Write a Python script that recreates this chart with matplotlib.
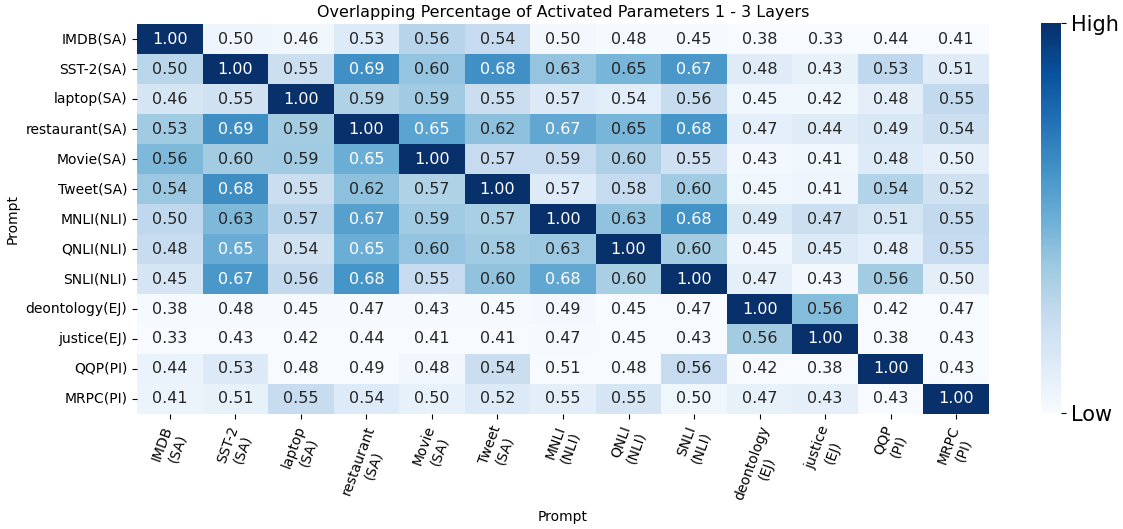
import matplotlib
matplotlib.use("Agg")
import matplotlib.pyplot as plt
import numpy as np
import seaborn as sns

row_labels = [
    "IMDB(SA)", "SST-2(SA)", "laptop(SA)", "restaurant(SA)", "Movie(SA)",
    "Tweet(SA)", "MNLI(NLI)", "QNLI(NLI)", "SNLI(NLI)", "deontology(EJ)",
    "justice(EJ)", "QQP(PI)", "MRPC(PI)",
]
col_labels = [
    "IMDB\n(SA)", "SST-2\n(SA)", "laptop\n(SA)", "restaurant\n(SA)", "Movie\n(SA)",
    "Tweet\n(SA)", "MNLI\n(NLI)", "QNLI\n(NLI)", "SNLI\n(NLI)", "deontology\n(EJ)",
    "justice\n(EJ)", "QQP\n(PI)", "MRPC\n(PI)",
]

# printed overlap values
overlap = np.array([
    [1.00, 0.50, 0.46, 0.53, 0.56, 0.54, 0.50, 0.48, 0.45, 0.38, 0.33, 0.44, 0.41],
    [0.50, 1.00, 0.55, 0.69, 0.60, 0.68, 0.63, 0.65, 0.67, 0.48, 0.43, 0.53, 0.51],
    [0.46, 0.55, 1.00, 0.59, 0.59, 0.55, 0.57, 0.54, 0.56, 0.45, 0.42, 0.48, 0.55],
    [0.53, 0.69, 0.59, 1.00, 0.65, 0.62, 0.67, 0.65, 0.68, 0.47, 0.44, 0.49, 0.54],
    [0.56, 0.60, 0.59, 0.65, 1.00, 0.57, 0.59, 0.60, 0.55, 0.43, 0.41, 0.48, 0.50],
    [0.54, 0.68, 0.55, 0.62, 0.57, 1.00, 0.57, 0.58, 0.60, 0.45, 0.41, 0.54, 0.52],
    [0.50, 0.63, 0.57, 0.67, 0.59, 0.57, 1.00, 0.63, 0.68, 0.49, 0.47, 0.51, 0.55],
    [0.48, 0.65, 0.54, 0.65, 0.60, 0.58, 0.63, 1.00, 0.60, 0.45, 0.45, 0.48, 0.55],
    [0.45, 0.67, 0.56, 0.68, 0.55, 0.60, 0.68, 0.60, 1.00, 0.47, 0.43, 0.56, 0.50],
    [0.38, 0.48, 0.45, 0.47, 0.43, 0.45, 0.49, 0.45, 0.47, 1.00, 0.56, 0.42, 0.47],
    [0.33, 0.43, 0.42, 0.44, 0.41, 0.41, 0.47, 0.45, 0.43, 0.56, 1.00, 0.38, 0.43],
    [0.44, 0.53, 0.48, 0.49, 0.48, 0.54, 0.51, 0.48, 0.56, 0.42, 0.38, 1.00, 0.43],
    [0.41, 0.51, 0.55, 0.54, 0.50, 0.52, 0.55, 0.55, 0.50, 0.47, 0.43, 0.43, 1.00],
])

# cell shading (Low..High); it does not follow the printed numbers
shade = np.array([
    [1.00, 0.05, 0.04, 0.13, 0.30, 0.25, 0.02, 0.01, 0.01, 0.00, 0.00, 0.00, 0.00],
    [0.29, 1.00, 0.22, 0.63, 0.40, 0.63, 0.40, 0.47, 0.60, 0.12, 0.08, 0.27, 0.12],
    [0.17, 0.20, 1.00, 0.32, 0.37, 0.23, 0.14, 0.11, 0.24, 0.04, 0.04, 0.10, 0.26],
    [0.37, 0.64, 0.36, 1.00, 0.55, 0.42, 0.53, 0.47, 0.61, 0.09, 0.12, 0.15, 0.22],
    [0.45, 0.36, 0.37, 0.50, 1.00, 0.25, 0.25, 0.33, 0.21, 0.02, 0.04, 0.13, 0.09],
    [0.38, 0.64, 0.23, 0.42, 0.32, 1.00, 0.13, 0.25, 0.37, 0.04, 0.05, 0.31, 0.20],
    [0.27, 0.45, 0.30, 0.56, 0.37, 0.34, 1.00, 0.41, 0.62, 0.15, 0.22, 0.18, 0.26],
    [0.24, 0.51, 0.20, 0.50, 0.40, 0.37, 0.38, 1.00, 0.36, 0.05, 0.14, 0.11, 0.25],
    [0.17, 0.60, 0.26, 0.61, 0.25, 0.41, 0.53, 0.34, 1.00, 0.09, 0.02, 0.36, 0.10],
    [0.01, 0.01, 0.01, 0.01, 0.01, 0.01, 0.02, 0.00, 0.00, 1.00, 0.44, 0.00, 0.00],
    [0.00, 0.00, 0.00, 0.00, 0.00, 0.00, 0.01, 0.00, 0.00, 0.36, 1.00, 0.00, 0.00],
    [0.07, 0.14, 0.00, 0.00, 0.03, 0.23, 0.00, 0.00, 0.25, 0.00, 0.00, 1.00, 0.00],
    [0.06, 0.08, 0.24, 0.13, 0.08, 0.14, 0.10, 0.17, 0.04, 0.08, 0.09, 0.00, 1.00],
])

fig = plt.figure(figsize=(11.23, 5.29), dpi=100)
ax = fig.add_axes([0.1220, 0.2174, 0.7587, 0.7372])
cax = fig.add_axes([0.9270, 0.2193, 0.0178, 0.7372])

sns.heatmap(
    shade, ax=ax, cbar_ax=cax, cmap="Blues", vmin=0, vmax=1,
    annot=overlap, fmt=".2f", annot_kws={"fontsize": 11.5},
    xticklabels=col_labels, yticklabels=row_labels,
)

ax.set_title("Overlapping Percentage of Activated Parameters 1 - 3 Layers", fontsize=11.5, pad=5)
ax.set_xlabel("Prompt", fontsize=10, labelpad=2)
ax.set_ylabel("Prompt", fontsize=10)
ax.tick_params(axis="both", labelsize=10)
plt.setp(ax.get_xticklabels(), rotation=70, ha="center")
plt.setp(ax.get_yticklabels(), rotation=0)

cbar = ax.collections[0].colorbar
cbar.set_ticks([0, 1])
cbar.set_ticklabels(["Low", "High"])
cbar.ax.tick_params(labelsize=15)
cbar.outline.set_visible(False)

fig.savefig("out.png", dpi=100)
